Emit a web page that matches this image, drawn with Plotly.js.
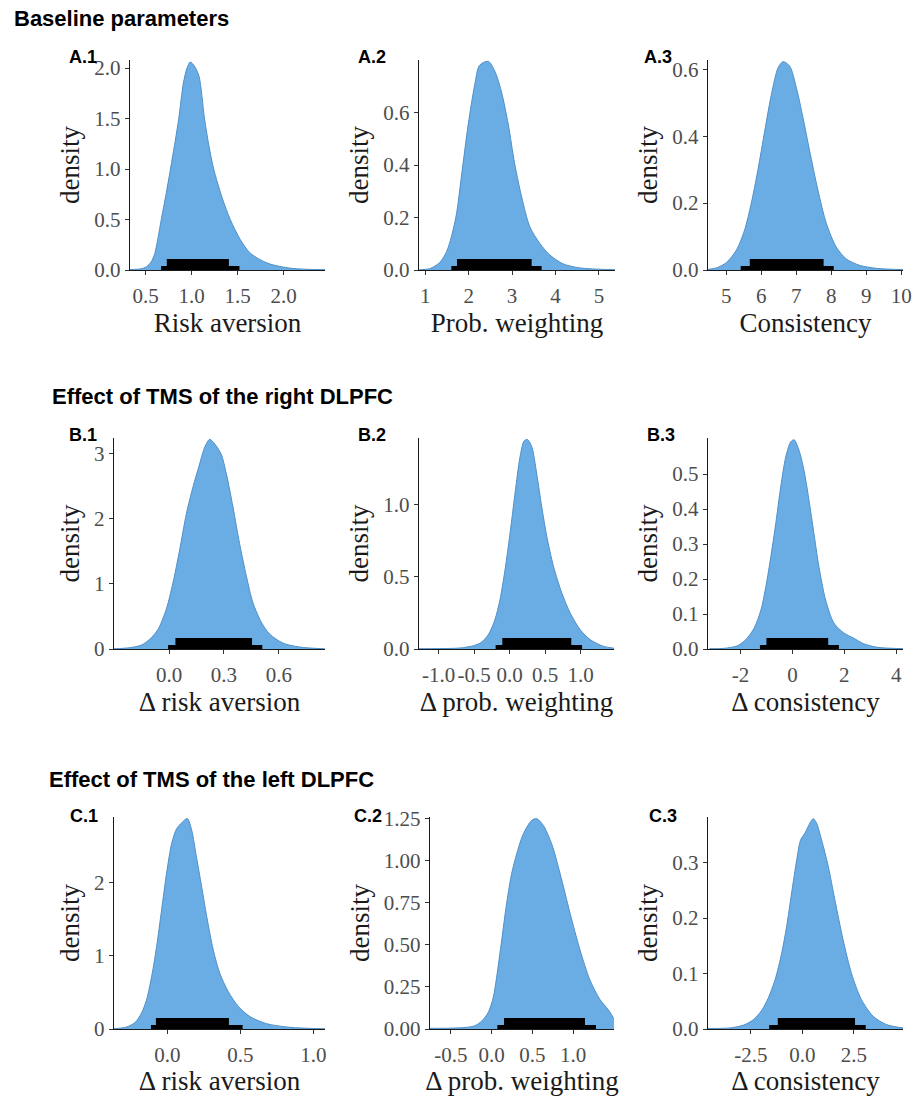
<!DOCTYPE html>
<html><head><meta charset="utf-8">
<script src="https://cdn.plot.ly/plotly-3.0.1.min.js"></script>
<style>html,body{margin:0;padding:0;background:#fff}</style>
</head><body>
<div id="chart" style="width:915px;height:1096px"></div>
<script>
// ---------- data ----------
const a1X = [0.33, 0.45, 0.51, 0.56, 0.60, 0.635, 0.67, 0.72, 0.77, 0.82, 0.86, 0.91, 0.95, 0.985, 1.03, 1.08, 1.14, 1.19, 1.24, 1.33, 1.42, 1.53, 1.64, 1.83, 2.08, 2.45];
const a1Y = [0.004, 0.012, 0.033, 0.08, 0.165, 0.32, 0.50, 0.74, 1.00, 1.27, 1.50, 1.85, 2.00, 2.06, 2.02, 1.92, 1.50, 1.22, 1.00, 0.72, 0.50, 0.30, 0.165, 0.066, 0.017, 0.003];
const a1Inner = [0.73, 1.405], a1Outer = [0.668, 1.52];

const a2X = [0.86, 1.10, 1.33, 1.49, 1.60, 1.72, 1.83, 1.99, 2.14, 2.25, 2.45, 2.60, 2.75, 2.91, 3.06, 3.22, 3.41, 3.64, 3.87, 4.18, 4.56, 5.37];
const a2Y = [0.001, 0.005, 0.028, 0.07, 0.126, 0.215, 0.354, 0.556, 0.707, 0.78, 0.795, 0.758, 0.682, 0.556, 0.404, 0.278, 0.164, 0.101, 0.057, 0.023, 0.008, 0.001];
const a2Inner = [1.73, 3.45], a2Outer = [1.60, 3.68];

const a3X = [4.48, 4.71, 5.0, 5.29, 5.52, 5.71, 5.90, 6.10, 6.29, 6.48, 6.62, 6.81, 7.0, 7.19, 7.38, 7.62, 7.86, 8.14, 8.43, 8.81, 9.29, 10.05];
const a3Y = [0.002, 0.006, 0.022, 0.06, 0.119, 0.198, 0.298, 0.417, 0.526, 0.605, 0.623, 0.61, 0.546, 0.456, 0.357, 0.238, 0.139, 0.069, 0.033, 0.014, 0.005, 0.001];
const a3Inner = [5.67, 7.78], a3Outer = [5.41, 8.07];

const b1X = [-0.30, -0.215, -0.151, -0.105, -0.06, -0.015, 0.022, 0.058, 0.095, 0.131, 0.167, 0.195, 0.222, 0.249, 0.285, 0.313, 0.349, 0.385, 0.422, 0.458, 0.504, 0.549, 0.622, 0.713, 0.85];
const b1Y = [0.003, 0.02, 0.06, 0.15, 0.30, 0.61, 1.02, 1.52, 2.08, 2.49, 2.84, 3.10, 3.22, 3.15, 2.99, 2.69, 2.18, 1.62, 1.12, 0.71, 0.41, 0.23, 0.09, 0.03, 0.003];
const b1Inner = [0.035, 0.453], b1Outer = [-0.005, 0.509];

const b2X = [-1.28, -0.99, -0.70, -0.51, -0.40, -0.30, -0.21, -0.137, -0.066, 0.005, 0.075, 0.146, 0.203, 0.25, 0.311, 0.382, 0.453, 0.524, 0.618, 0.736, 0.854, 0.995, 1.137, 1.325, 1.476];
const b2Y = [0.002, 0.003, 0.007, 0.023, 0.046, 0.10, 0.20, 0.34, 0.547, 0.80, 1.076, 1.33, 1.44, 1.45, 1.40, 1.21, 0.98, 0.777, 0.57, 0.386, 0.248, 0.133, 0.064, 0.018, 0.005];
const b2Inner = [-0.104, 0.868], b2Outer = [-0.198, 1.02];

const b3X = [-3.19, -2.62, -2.11, -1.79, -1.47, -1.21, -1.02, -0.83, -0.64, -0.45, -0.255, -0.064, 0.064, 0.255, 0.447, 0.639, 0.83, 1.02, 1.28, 1.60, 1.98, 2.36, 2.75, 3.26, 4.26];
const b3Y = [0.001, 0.002, 0.0095, 0.027, 0.06, 0.112, 0.179, 0.264, 0.359, 0.463, 0.549, 0.592, 0.598, 0.568, 0.511, 0.425, 0.33, 0.236, 0.14, 0.074, 0.046, 0.031, 0.015, 0.005, 0.001];
const b3Inner = [-1.0, 1.38], b3Outer = [-1.25, 1.79];

const c1X = [-0.365, -0.279, -0.221, -0.176, -0.142, -0.107, -0.073, -0.039, -0.005, 0.03, 0.064, 0.098, 0.137, 0.167, 0.20, 0.235, 0.27, 0.315, 0.36, 0.418, 0.486, 0.566, 0.68, 0.84, 1.08];
const c1Y = [0.003, 0.027, 0.09, 0.22, 0.40, 0.72, 1.13, 1.63, 2.13, 2.54, 2.74, 2.82, 2.88, 2.72, 2.35, 1.95, 1.54, 1.08, 0.76, 0.51, 0.31, 0.17, 0.073, 0.023, 0.003];
const c1Inner = [-0.078, 0.422], c1Outer = [-0.112, 0.516];

const c2X = [-0.756, -0.51, -0.306, -0.204, -0.123, -0.041, 0.02, 0.061, 0.123, 0.184, 0.245, 0.306, 0.388, 0.49, 0.552, 0.633, 0.736, 0.838, 0.96, 1.083, 1.206, 1.33, 1.43, 1.5];
const c2Y = [0.004, 0.005, 0.01, 0.02, 0.047, 0.10, 0.19, 0.31, 0.53, 0.75, 0.925, 1.04, 1.16, 1.24, 1.25, 1.21, 1.10, 0.925, 0.69, 0.47, 0.29, 0.174, 0.115, 0.06];
const c2Inner = [0.151, 1.144], c2Outer = [0.069, 1.279];

const c3X = [-4.58, -3.5, -2.85, -2.37, -1.97, -1.65, -1.32, -1.0, -0.76, -0.52, -0.27, -0.08, 0.13, 0.37, 0.53, 0.69, 0.935, 1.26, 1.58, 1.98, 2.39, 2.87, 3.44, 4.08, 4.89];
const c3Y = [0.001, 0.002, 0.007, 0.017, 0.034, 0.056, 0.089, 0.137, 0.185, 0.245, 0.305, 0.341, 0.353, 0.371, 0.379, 0.371, 0.341, 0.293, 0.233, 0.161, 0.10, 0.053, 0.023, 0.008, 0.002];
const c3Inner = [-1.19, 2.56], c3Outer = [-1.61, 3.08];

// tick labels
const a1XTicks = [0.5, 1.0, 1.5, 2.0], a1XLabels = ["0.5", "1.0", "1.5", "2.0"];
const a1YTicks = [0, 0.5, 1.0, 1.5, 2.0], a1YLabels = ["0.0", "0.5", "1.0", "1.5", "2.0"];
const a2XTicks = [1, 2, 3, 4, 5], a2XLabels = ["1", "2", "3", "4", "5"];
const a2YTicks = [0, 0.2, 0.4, 0.6], a2YLabels = ["0.0", "0.2", "0.4", "0.6"];
const a3XTicks = [5, 6, 7, 8, 9, 10], a3XLabels = ["5", "6", "7", "8", "9", "10"];
const a3YTicks = [0, 0.2, 0.4, 0.6], a3YLabels = ["0.0", "0.2", "0.4", "0.6"];
const b1XTicks = [0, 0.3, 0.6], b1XLabels = ["0.0", "0.3", "0.6"];
const b1YTicks = [0, 1, 2, 3], b1YLabels = ["0", "1", "2", "3"];
const b2XTicks = [-1, -0.5, 0, 0.5, 1], b2XLabels = ["-1.0", "-0.5", "0.0", "0.5", "1.0"];
const b2YTicks = [0, 0.5, 1.0], b2YLabels = ["0.0", "0.5", "1.0"];
const b3XTicks = [-2, 0, 2, 4], b3XLabels = ["-2", "0", "2", "4"];
const b3YTicks = [0, 0.1, 0.2, 0.3, 0.4, 0.5], b3YLabels = ["0.0", "0.1", "0.2", "0.3", "0.4", "0.5"];
const c1XTicks = [0, 0.5, 1.0], c1XLabels = ["0.0", "0.5", "1.0"];
const c1YTicks = [0, 1, 2], c1YLabels = ["0", "1", "2"];
const c2XTicks = [-0.5, 0, 0.5, 1.0], c2XLabels = ["-0.5", "0.0", "0.5", "1.0"];
const c2YTicks = [0, 0.25, 0.5, 0.75, 1.0, 1.25], c2YLabels = ["0.00", "0.25", "0.50", "0.75", "1.00", "1.25"];
const c3XTicks = [-2.5, 0, 2.5], c3XLabels = ["-2.5", "0.0", "2.5"];
const c3YTicks = [0, 0.1, 0.2, 0.3], c3YLabels = ["0.0", "0.1", "0.2", "0.3"];

const panelLabels = ["A.1", "A.2", "A.3", "B.1", "B.2", "B.3", "C.1", "C.2", "C.3"];
const xTitles = ["Risk aversion", "Prob. weighting", "Consistency",
  "Δ risk aversion", "Δ prob. weighting", "Δ consistency",
  "Δ risk aversion", "Δ prob. weighting", "Δ consistency"];
const yTitle = "density";
const sectionTitles = ["Baseline parameters", "Effect of TMS of the right DLPFC", "Effect of TMS of the left DLPFC"];

// ---------- layout geometry (pixels) ----------
const W = 915, H = 1096;
const panels = [
  {x: a1X, y: a1Y, inner: a1Inner, outer: a1Outer, xt: a1XTicks, xl: a1XLabels, yt: a1YTicks, yl: a1YLabels, xr: [0.33, 2.45], yr: [0, 2.08], px: [130, 325], py: [60, 270], lab: [67, 57]},
  {x: a2X, y: a2Y, inner: a2Inner, outer: a2Outer, xt: a2XTicks, xl: a2XLabels, yt: a2YTicks, yl: a2YLabels, xr: [0.855, 5.37], yr: [0, 0.80], px: [419, 615], py: [60, 270], lab: [356, 57]},
  {x: a3X, y: a3Y, inner: a3Inner, outer: a3Outer, xt: a3XTicks, xl: a3XLabels, yt: a3YTicks, yl: a3YLabels, xr: [4.476, 10.05], yr: [0, 0.628], px: [708, 903], py: [60, 270], lab: [642, 57]},
  {x: b1X, y: b1Y, inner: b1Inner, outer: b1Outer, xt: b1XTicks, xl: b1XLabels, yt: b1YTicks, yl: b1YLabels, xr: [-0.30, 0.851], yr: [0, 3.24], px: [114, 325], py: [438, 649], lab: [67, 435]},
  {x: b2X, y: b2Y, inner: b2Inner, outer: b2Outer, xt: b2XTicks, xl: b2XLabels, yt: b2YTicks, yl: b2YLabels, xr: [-1.278, 1.47], yr: [0, 1.46], px: [419, 614], py: [438, 649], lab: [356, 435]},
  {x: b3X, y: b3Y, inner: b3Inner, outer: b3Outer, xt: b3XTicks, xl: b3XLabels, yt: b3YTicks, yl: b3YLabels, xr: [-3.25, 4.26], yr: [0, 0.603], px: [708, 903], py: [438, 649], lab: [645, 435]},
  {x: c1X, y: c1Y, inner: c1Inner, outer: c1Outer, xt: c1XTicks, xl: c1XLabels, yt: c1YTicks, yl: c1YLabels, xr: [-0.365, 1.08], yr: [0, 2.9], px: [114, 325], py: [817, 1029], lab: [68, 816]},
  {x: c2X, y: c2Y, inner: c2Inner, outer: c2Outer, xt: c2XTicks, xl: c2XLabels, yt: c2YTicks, yl: c2YLabels, xr: [-0.757, 1.5], yr: [0, 1.26], px: [430, 614], py: [817, 1029], lab: [352, 816]},
  {x: c3X, y: c3Y, inner: c3Inner, outer: c3Outer, xt: c3XTicks, xl: c3XLabels, yt: c3YTicks, yl: c3YLabels, xr: [-4.58, 4.89], yr: [0, 0.382], px: [708, 903], py: [817, 1029], lab: [647, 816]}
];
const sectionPos = [[12, 19], [50, 396], [47, 779]];

const FILL = "#6aade4", EDGE = "#4f8fc9";
const SERIF = "Liberation Serif, Times New Roman, serif";
const SANS = "Liberation Sans, Arial, sans-serif";

const data = [], shapes = [], annotations = [];
const layout = {
  width: W, height: H, margin: {l: 0, r: 0, t: 0, b: 0},
  paper_bgcolor: "#fff", plot_bgcolor: "rgba(0,0,0,0)", showlegend: false
};

panels.forEach((p, i) => {
  const k = i === 0 ? "" : String(i + 1);
  data.push({
    type: "scatter", mode: "lines", x: p.x, y: p.y,
    xaxis: "x" + k, yaxis: "y" + k,
    line: {color: EDGE, width: 1, shape: "spline", smoothing: 0.8},
    fill: "tozeroy", fillcolor: FILL, hoverinfo: "skip", cliponaxis: true
  });
  const axCommon = {
    showline: true, linecolor: "#1a1a1a", linewidth: 1.2,
    ticks: "outside", ticklen: 4, tickwidth: 1, tickcolor: "#333",
    tickfont: {family: SERIF, size: 21, color: "#4d4d4d"},
    showgrid: false, zeroline: false, automargin: false, fixedrange: true
  };
  layout["xaxis" + k] = Object.assign({}, axCommon, {
    domain: [p.px[0] / W, p.px[1] / W], range: p.xr, anchor: "y" + k,
    tickmode: "array", tickvals: p.xt, ticktext: p.xl, ticklabelstandoff: 3,
    title: {text: xTitles[i], font: {family: SERIF, size: 27, color: "#1a1a1a"}, standoff: 1}
  });
  layout["yaxis" + k] = Object.assign({}, axCommon, {
    domain: [1 - p.py[1] / H, 1 - p.py[0] / H], range: p.yr, anchor: "x" + k,
    tickmode: "array", tickvals: p.yt, ticktext: p.yl,
    title: {text: yTitle, font: {family: SERIF, size: 27, color: "#1a1a1a"}, standoff: 6}
  });
  shapes.push({type: "rect", xref: "x" + k, yref: "y" + k, x0: p.outer[0], x1: p.outer[1],
    ysizemode: "pixel", yanchor: 0, y0: 0, y1: 4, fillcolor: "#000", line: {width: 0}, layer: "above"});
  shapes.push({type: "rect", xref: "x" + k, yref: "y" + k, x0: p.inner[0], x1: p.inner[1],
    ysizemode: "pixel", yanchor: 0, y0: 0, y1: 11, fillcolor: "#000", line: {width: 0}, layer: "above"});
  annotations.push({xref: "paper", yref: "paper", x: p.lab[0] / W, y: 1 - p.lab[1] / H,
    xanchor: "left", yanchor: "middle", showarrow: false,
    text: "<b>" + panelLabels[i] + "</b>", font: {family: SANS, size: 18, color: "#000"}});
});
sectionTitles.forEach((t, j) => {
  annotations.push({xref: "paper", yref: "paper", x: sectionPos[j][0] / W, y: 1 - sectionPos[j][1] / H,
    xanchor: "left", yanchor: "middle", showarrow: false,
    text: "<b>" + t + "</b>", font: {family: SANS, size: 22, color: "#000"}});
});
layout.shapes = shapes;
layout.annotations = annotations;

Plotly.newPlot("chart", data, layout, {displayModeBar: false, staticPlot: true});
</script>
</body></html>
